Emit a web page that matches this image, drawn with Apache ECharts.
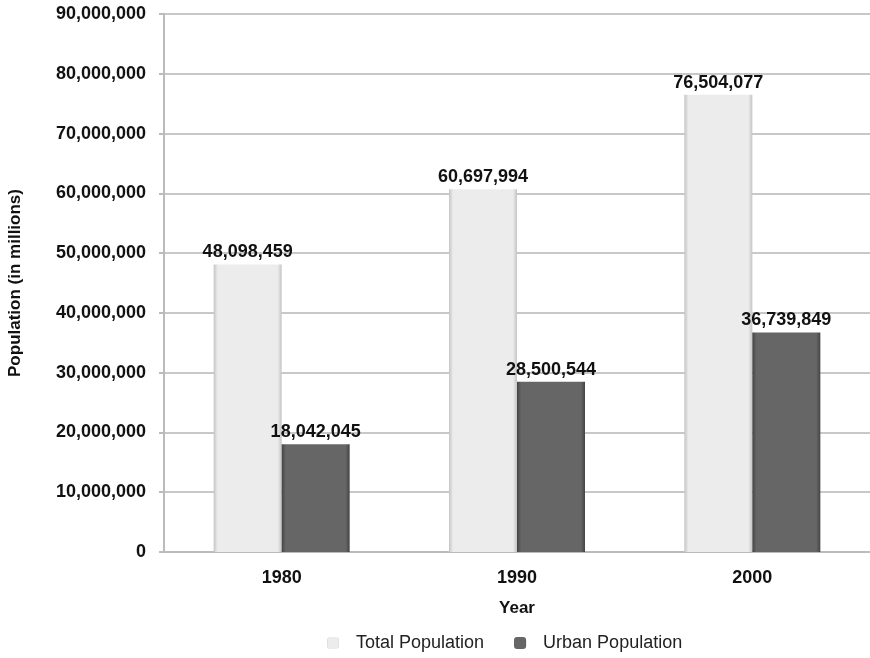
<!DOCTYPE html>
<html><head><meta charset="utf-8">
<script src="https://cdn.jsdelivr.net/npm/echarts@6/dist/echarts.min.js"></script>
<style>html,body{margin:0;padding:0;background:#fff}#c{width:870px;height:658px}</style>
</head><body><div id="c"></div>
<script>
const categories = ['1980', '1990', '2000'];
const totalPopulation = [48098459, 60697994, 76504077];
const urbanPopulation = [18042045, 28500544, 36739849];
const seriesNames = ['Total Population', 'Urban Population'];

const fmt = v => v.toLocaleString('en-US');
const font = 'Liberation Sans, Arial, sans-serif';

const chart = echarts.init(document.getElementById('c'));
const grad = (edge, mid) => ({
  type: 'linear', x: 0, y: 0, x2: 1, y2: 0,
  colorStops: [
    {offset: 0, color: edge}, {offset: 0.06, color: mid},
    {offset: 0.94, color: mid}, {offset: 1, color: edge}
  ]
});
chart.setOption({
  animation: false,
  grid: {left: 164, right: 0, top: 14, bottom: 106, containLabel: false, outerBoundsMode: 'none'},
  legend: {
    top: 629, left: 322, itemWidth: 12, itemHeight: 12, itemGap: 30,
    textStyle: {fontFamily: font, fontSize: 18, color: '#222', padding: [0, 0, 0, 12]},
    data: seriesNames
  },
  xAxis: {
    type: 'category', data: categories,
    name: 'Year', nameLocation: 'middle', nameGap: 48,
    nameTextStyle: {fontFamily: font, fontSize: 17, fontWeight: 'bold', color: '#111'},
    axisLine: {lineStyle: {color: '#bbb', width: 2}},
    axisTick: {show: false},
    axisLabel: {fontFamily: font, fontSize: 18, fontWeight: 'bold', color: '#111', margin: 17}
  },
  yAxis: {
    type: 'value', min: 0, max: 90000000, interval: 10000000,
    name: 'Population (in millions)', nameLocation: 'middle', nameGap: 140, nameRotate: 90,
    nameTextStyle: {fontFamily: font, fontSize: 17, fontWeight: 'bold', color: '#111'},
    axisLine: {show: true, lineStyle: {color: '#bbb', width: 2}},
    axisTick: {show: true, length: 5, lineStyle: {color: '#bbb', width: 2}},
    axisLabel: {fontFamily: font, fontSize: 18, fontWeight: 'bold', color: '#111', margin: 18, formatter: fmt},
    splitLine: {lineStyle: {color: '#c8c8c8', width: 2}}
  },
  series: [
    {
      name: seriesNames[0], type: 'bar', data: totalPopulation,
      barWidth: 68, barGap: '0%',
      itemStyle: {color: grad('#c4c4c4', '#ececec')},
      label: {show: true, position: 'top', distance: 3, formatter: p => fmt(p.value),
        fontFamily: font, fontSize: 18, fontWeight: 'bold', color: '#111'}
    },
    {
      name: seriesNames[1], type: 'bar', data: urbanPopulation,
      barWidth: 68,
      itemStyle: {color: grad('#444', '#666')},
      label: {show: true, position: 'top', distance: 3, formatter: p => fmt(p.value),
        fontFamily: font, fontSize: 18, fontWeight: 'bold', color: '#111'}
    }
  ]
});
</script></body></html>
